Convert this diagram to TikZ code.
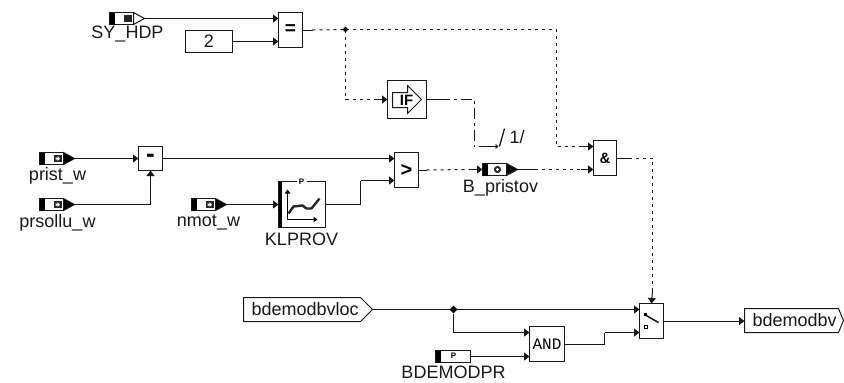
\documentclass[tikz,border=0pt]{standalone}
\usepackage{fontspec}
\setmainfont{Liberation Sans}
\newfontfamily\monof{Liberation Mono}
\usetikzlibrary{arrows.meta,positioning,shapes.geometric}
\tikzset{
 x=1pt,y=-1pt,
 wire/.style={draw=black!90,line width=1pt},
 flow/.style={wire,-{Triangle[length=5.5pt,width=8pt]}},
 dash1/.style={dash pattern=on 3pt off 4pt},
 dashdot/.style={dash pattern=on 11pt off 4pt on 3pt off 4pt},
 blk/.style={draw=black!90,fill=white,line width=1pt,inner sep=0pt,outer sep=0pt,minimum width=#1},
 opsym/.style={inner sep=0pt,text=black},
 lbl/.style={font=\fontsize{18}{18}\selectfont,inner sep=0pt,text=black!90},
 dot/.style={diamond,fill=black,inner sep=0pt,minimum size=7pt},
}
\newcommand{\inblock}[5]{% name, left x, y centre, tip fill, icon
 \node[blk=24pt,minimum height=12pt,anchor=west] (#1) at (#2,#3) {};
 \fill[black] (#1.north west) rectangle ([xshift=5.5pt]#1.south west);
 \draw[line width=1pt,draw=black!90,fill=#4] (#1.north east) -- ([xshift=11pt]#1.east) -- (#1.south east) -- cycle;
 \coordinate (#1tip) at ([xshift=11pt]#1.east);
 #5
}
\newcommand{\inicon}[1]{%
 \fill[black!85] ([xshift=-10pt,yshift=-3.5pt]#1.east) rectangle ([xshift=-2pt,yshift=3.5pt]#1.east);
 \fill[white] ([xshift=-8pt,yshift=-1pt]#1.east) -- ([xshift=-6pt,yshift=-1pt]#1.east) -- ([xshift=-6pt,yshift=-2.5pt]#1.east) -- ([xshift=-3.5pt,yshift=0pt]#1.east) -- ([xshift=-6pt,yshift=2.5pt]#1.east) -- ([xshift=-6pt,yshift=1pt]#1.east) -- ([xshift=-8pt,yshift=1pt]#1.east) -- cycle;
}
\begin{document}
\begin{tikzpicture}
\useasboundingbox (-0.5,-0.5) rectangle (843.5,382.5);
% blocks
\node[blk=24pt,minimum height=35pt,anchor=north west] (eq) at (278,12) {};
\node[opsym,font=\bfseries\fontsize{19}{19}\selectfont] at (eq.center) {=};
\node[blk=47pt,minimum height=22pt,anchor=north west,lbl] (two) at (185,30) {2};
\node[blk=39pt,minimum height=38pt,anchor=north west] (ifb) at (387,80) {};
\node[blk=24pt,minimum height=24pt,anchor=north west] (minus) at (138,146) {};
\node[opsym,font=\bfseries\fontsize{26}{26}\selectfont] at (minus.center) {-};
\node[blk=24pt,minimum height=35pt,anchor=north west] (gt) at (394,152) {};
\node[opsym,font=\bfseries\fontsize{20}{20}\selectfont] at (gt.center) {>};
\node[blk=23pt,minimum height=35pt,anchor=north west] (andb) at (593,140) {};
\node[opsym,font=\bfseries\fontsize{15}{15}\selectfont] at (andb.center) {\&};
\node[blk=47pt,minimum height=46pt,anchor=north west] (kl) at (278,181) {};
\node[blk=35pt,minimum height=35pt,anchor=north west] (andg) at (529,326) {};
\node[font=\monof\fontsize{16}{16}\selectfont,inner sep=0pt] at (andg.center) {AND};
\node[blk=24pt,minimum height=35pt,anchor=north west] (sw) at (639,303) {};
% input blocks
\inblock{sy}{109}{18}{white}{\fill[black!85] (123,14.5) rectangle (131,21.5);}
\inblock{pr}{39}{158}{black}{\inicon{pr}}
\inblock{ps}{39}{204}{black}{\inicon{ps}}
\inblock{nm}{191}{204}{black}{\inicon{nm}}
\inblock{bp}{482}{169}{black}{\fill[black!85] (497,169) circle (3.6pt); \fill[white] (497,169) circle (1.6pt);}
\node[blk=35pt,minimum height=12pt,anchor=west] (bd) at (435,356) {};
\fill[black] (bd.north west) rectangle ([xshift=5pt]bd.south west);
\node[font=\bfseries\fontsize{8}{8}\selectfont,inner sep=0pt] at (453,355.5) {P};
% message blocks
\draw[line width=1pt,draw=black!90] (243,297) -- (360,297) -- (372,309) -- (360,321) -- (243,321) -- cycle;
\node[lbl,anchor=west] at (251,309) {bdemodbvloc};
\draw[line width=1pt,draw=black!90] (744,308) -- (838,308) -- (843,320) -- (838,332) -- (744,332) -- cycle;
\node[lbl,anchor=west] at (752,320) {bdemodbv};
\coordinate (loctip) at (372,309);
\coordinate (outw) at (744,320);
% labels
\node[lbl] at (127,34) {SY\_HDP};
\node[lbl] at (57,175.5) {prist\_w};
\node[lbl] at (57,222) {prsollu\_w};
\node[lbl] at (208,222) {nmot\_w};
\node[lbl] at (301,238.5) {KLPROV};
\node[lbl] at (500,187) {B\_pristov};
\node[lbl] at (453,372) {BDEMODPR};
\node[lbl,anchor=west] at (509,137) {1/};
% IF icon
\draw[line width=1pt,draw=black!90] (392,92) -- (407,92) -- (407,85) -- (421,99) -- (407,113) -- (407,107) -- (392,107) -- cycle;
\node[font=\bfseries\fontsize{15}{15}\selectfont,inner sep=0pt] at (406,99.5) {IF};
% KL icon
\fill[black] (278,181) rectangle (281.5,227);
\fill[white] (296,179) rectangle (306,183);
\node[font=\bfseries\fontsize{8}{8}\selectfont,inner sep=0pt] at (301,181) {P};
\draw[line width=1.3pt,-{Triangle[length=4pt,width=5.5pt]}] (287,219) -- (287,189);
\draw[line width=1.3pt,-{Triangle[length=4pt,width=5.5pt]}] (287,219) -- (317,219);
\draw[line width=2.4pt,black!85] (288,213) -- (293,206) -- (302,205) -- (306,208) -- (311,208) -- (319,198);
% switch icon
\draw[line width=1.5pt,draw=black!90] (644,314) -- (658,322);
\fill[black] (643.5,312.5) rectangle (646.5,315.5);
\draw[line width=0.9pt] (643.5,325) rectangle (646.5,328);
% connectors
\draw[flow] (sytip) -- (sytip -| eq.west);
\draw[flow] (two.east) -- (two.east -| eq.west);
\coordinate (j1) at (345,29);
\draw[wire] (eq.east) -- ++(10,0);
\draw[wire,dash1] ([xshift=10pt]eq.east) -- (j1);
\node[dot,minimum size=6pt] (jn1) at (j1) {};
\draw[wire,dash1] (j1) -- (345,99) -- (375,99);
\draw[flow] (375,99) -- (ifb.west);
\coordinate (a1) at (593,146);
\draw[wire,dash1] (j1) -- (556,29) -- (556,146) -- (580,146);
\draw[flow] (580,146) -- (a1);
\draw[wire] (ifb.east) -- ++(12,0);
\draw[wire,dashdot] ([xshift=12pt]ifb.east) -- (474,99) -- (474,146);
\coordinate (sa) at (478,146);
\coordinate (sb) at (498,146);
\draw[wire,-{Triangle[length=3pt,width=5pt]}] (sa) -- (sb);
\draw[wire,line width=1.3pt] (499,146) -- (504,128);
\draw[flow] (prtip) -- (pr.east -| minus.west);
\draw[wire] (pstip) -- (150,204);
\draw[flow] (150,204) -- (minus.south);
\draw[flow] (minus.east) -- (minus.east -| gt.west);
\draw[flow] (nmtip) -- (nm.east -| kl.west);
\draw[wire] (kl.east) -- (360,204) -- (360,180);
\draw[flow] (360,180) -- (394,180);
\draw[wire] (gt.east) -- ++(8,0);
\draw[wire,dash1] ([xshift=8pt]gt.east) -- (470,169);
\draw[flow] (470,169) -- (bp.west);
\draw[wire] (bptip) -- ++(17,0);
\draw[wire,dash1] ([xshift=17pt]bptip) -- (580,169);
\draw[flow] (580,169) -- (593,169);
\draw[wire] (andb.east) -- ++(12,0);
\draw[wire,dash1] ([xshift=12pt]andb.east) -- (652,157.5) -- (652,290);
\draw[flow] (652,290) -- (sw.north);
\coordinate (j2) at (453,309);
\draw[flow] (loctip) -- (639,309);
\node[dot,minimum size=8pt] (jn2) at (j2) {};
\draw[wire] (jn2) -- (453,332);
\draw[flow] (453,332) -- (529,332);
\draw[flow] (bd.east) -- (529,356);
\draw[wire] (andg.east) -- (604,343.5) -- (604,332);
\draw[flow] (604,332) -- (639,332);
\draw[flow] (sw.east) -- (sw.east -| outw);
\end{tikzpicture}
\end{document}
